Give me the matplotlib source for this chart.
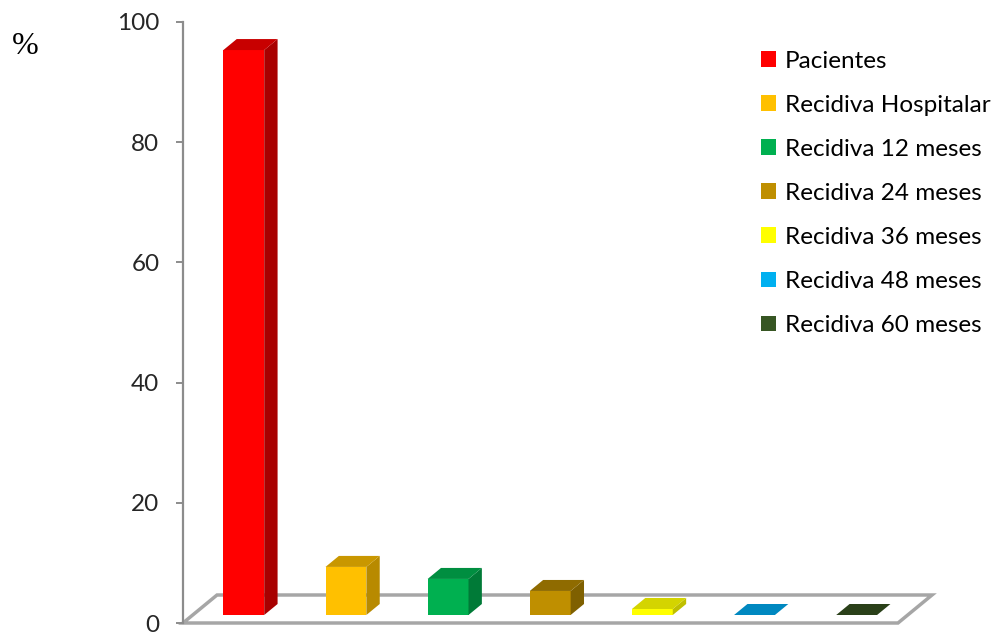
import matplotlib
matplotlib.use("Agg")
import matplotlib.pyplot as plt
from matplotlib.patches import Polygon, Patch

# ---- data ----
categories = ["Pacientes", "Recidiva Hospitalar", "Recidiva 12 meses",
              "Recidiva 24 meses", "Recidiva 36 meses", "Recidiva 48 meses",
              "Recidiva 60 meses"]
values = [94, 8, 6, 4, 1, 0, 0]
y_ticks = [0, 20, 40, 60, 80, 100]

front_colors = ["#FF0000", "#FFC000", "#00B050", "#BF8F00", "#FFFF00", "#00B0F0", "#375623"]
side_colors = ["#A80000", "#B88A00", "#007A37", "#7F6000", "#BFBF00", "#0078A8", "#24391A"]
top_colors = ["#C80000", "#C99700", "#008E40", "#8F6B00", "#D4D400", "#0088C0", "#2A4019"]

# ---- geometry (style constants) ----
DX = 34 / 102.1      # floor depth in category units
DY = 28 / 6.01       # floor depth in value units
A = 8 / 28           # bar front depth fraction
B = 19 / 28          # bar back depth fraction
BAR_W = 0.40

fig = plt.figure(figsize=(10, 6.34), dpi=100)
ax = fig.add_axes([0.183, 1 - 623 / 634, 0.715, (623 - 22) / 634])
ax.set_xlim(0, len(categories))
ax.set_ylim(0, 100)

edge_gray = "#A6A6A6"
# floor
n = len(categories)
floor = Polygon([(0, 0), (n, 0), (n + DX, DY), (DX, DY)], closed=True,
                facecolor="white", edgecolor=edge_gray, linewidth=2.5,
                clip_on=False, zorder=1, joinstyle="miter")
ax.add_patch(floor)

ddx = (B - A) * DX
ddy = (B - A) * DY
for i, v in enumerate(values):
    x0 = i + 0.5 - BAR_W / 2 + A * DX
    x1 = x0 + BAR_W
    y0 = A * DY
    yt = y0 + v
    if v > 0:
        ax.add_patch(Polygon([(x0, y0), (x1, y0), (x1, yt), (x0, yt)],
                             facecolor=front_colors[i], edgecolor="none",
                             clip_on=False, zorder=3))
        ax.add_patch(Polygon([(x1, y0), (x1 + ddx, y0 + ddy), (x1 + ddx, yt + ddy), (x1, yt)],
                             facecolor=side_colors[i], edgecolor="none",
                             clip_on=False, zorder=3))
    ax.add_patch(Polygon([(x0, yt), (x1, yt), (x1 + ddx, yt + ddy), (x0 + ddx, yt + ddy)],
                         facecolor=top_colors[i], edgecolor="none",
                         clip_on=False, zorder=3))

# axes styling
for s in ["top", "right", "bottom"]:
    ax.spines[s].set_visible(False)
ax.spines["left"].set_color("#8C8C8C")
ax.spines["left"].set_linewidth(1.6)
ax.set_xticks([])
ax.set_yticks(y_ticks)
ax.set_yticklabels([str(t) for t in y_ticks], fontfamily="Lato", fontsize=17.5, color="#262626")
ax.tick_params(axis="y", direction="out", length=5, width=1.4, color="#8C8C8C", pad=12)
ax.patch.set_alpha(0)

# % label
fig.text(0.012, 1 - 46 / 634, "%", fontfamily="Liberation Serif", fontsize=23,
         va="center", ha="left", color="black")

# legend
handles = [Patch(facecolor=c, edgecolor="none") for c in front_colors]
fig.legend(handles, categories, loc="upper left",
           bbox_to_anchor=(0.761, 1 - 50.5 / 634), frameon=False,
           prop={"family": "Lato", "size": 17.5},
           handlelength=0.62, handleheight=0.62, handletextpad=0.36,
           labelspacing=0.95, borderpad=0, borderaxespad=0)

fig.savefig("out.png", dpi=100, facecolor="white")
